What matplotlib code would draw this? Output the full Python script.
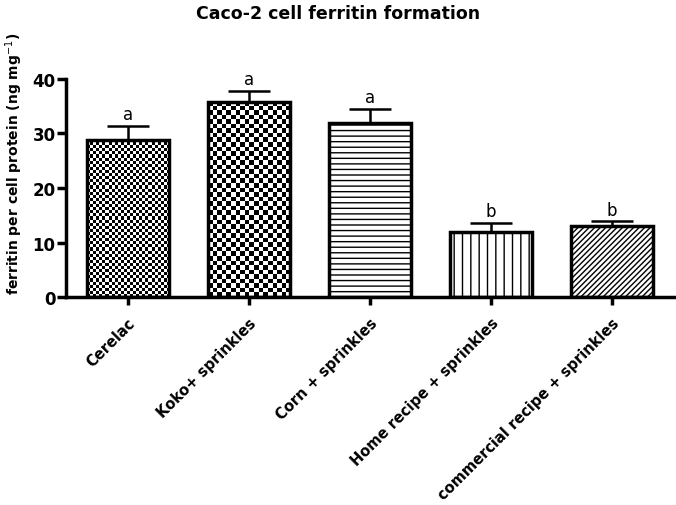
import numpy as np
import matplotlib
matplotlib.use('Agg')
import matplotlib.pyplot as plt

categories = ['Cerelac', 'Koko+ sprinkles', 'Corn + sprinkles',
              'Home recipe + sprinkles', 'commercial recipe + sprinkles']
means = [28.8, 35.8, 31.9, 11.9, 13.1]
errors = [2.6, 2.0, 2.6, 1.7, 0.8]
letters = ['a', 'a', 'a', 'b', 'b']

plt.rcParams['font.family'] = ['DejaVu Sans']
plt.rcParams['hatch.linewidth'] = 1.0

fig = plt.figure(figsize=(6.76, 5.06), dpi=100)
ax = fig.add_axes([0.0976, 0.411, 0.901, 0.431])

x = np.arange(len(categories))
bars = ax.bar(x, means, width=0.68, color='white', edgecolor='black',
              linewidth=2.5, zorder=2)

# hatch styles for the last three bars
for bar, h in zip(bars[2:], ['---', '||', '//////']):
    bar.set_hatch(h)

# checkerboard textures for the first two bars
for bar, n in zip(bars[:2], [27, 18]):
    bar.set_facecolor('none')
    x0, w, h = bar.get_x(), bar.get_width(), bar.get_height()
    rows = int(round(n * h * 5.45 / 82.3))
    board = (np.add.outer(np.arange(rows), np.arange(n)) % 2).astype(float)
    im = ax.imshow(board, cmap='gray', extent=(x0, x0 + w, 0, h),
                   interpolation='nearest', aspect='auto', zorder=1.5)
    im.set_clip_path(bar)

ax.errorbar(x, means, yerr=[np.zeros(len(errors)), errors], fmt='none',
            ecolor='black', elinewidth=1.8, capsize=15, capthick=1.8, zorder=3)

for xi, m, e, lab in zip(x, means, errors, letters):
    ax.text(xi, m + e + 0.5, lab, ha='center', va='bottom', fontsize=12)

ax.set_xlim(-0.51, 4.52)
ax.set_ylim(0, 40)
ax.set_yticks([0, 10, 20, 30, 40])
ax.set_xticks(x)
ax.set_xticklabels(categories, rotation=45, ha='right', rotation_mode='anchor',
                   fontsize=10.5, fontweight='bold')
for t in ax.get_yticklabels():
    t.set_fontweight('bold')
    t.set_fontsize(12)
ax.spines['top'].set_visible(False)
ax.spines['right'].set_visible(False)
ax.spines['left'].set_linewidth(2.5)
ax.spines['bottom'].set_linewidth(2.5)
ax.tick_params(axis='y', length=6.5, width=2.5, pad=1)
ax.tick_params(axis='x', length=6, width=2.5, pad=7)

ax.set_ylabel('ferritin per cell protein (ng mg$^{-1}$)', fontsize=10,
              fontweight='bold')
ax.yaxis.set_label_coords(-0.068, 0.615)
fig.text(0.5, 0.99, 'Caco-2 cell ferritin formation', ha='center', va='top',
         fontsize=12.5, fontweight='bold')

fig.savefig('out.png', dpi=100)
